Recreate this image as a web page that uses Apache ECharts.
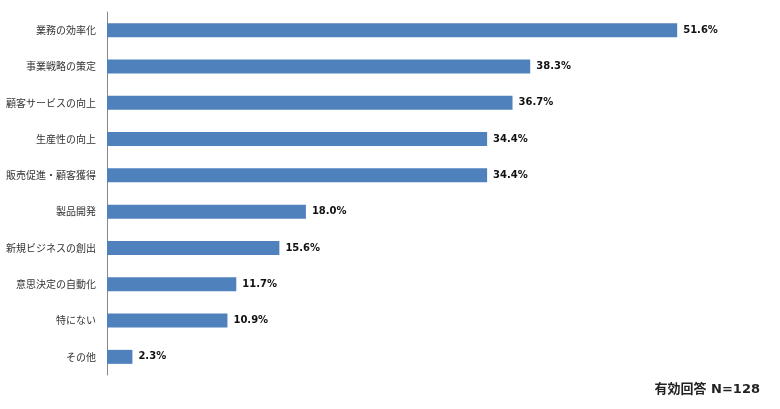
<!DOCTYPE html>
<html>
<head>
    <meta charset="utf-8">
    <title>ECharts</title>
    <script src="https://cdn.jsdelivr.net/npm/echarts@6/dist/echarts.min.js"></script>
</head>
<body style="margin:0;background:#fff;">
<div id="main" style="width: 780px;height:409px;"></div>
<script>
    // 上から順
    var categories = ['業務の効率化', '事業戦略の策定', '顧客サービスの向上', '生産性の向上', '販売促進・顧客獲得',
        '製品開発', '新規ビジネスの創出', '意思決定の自動化', '特にない', 'その他'];
    var values = [51.6, 38.3, 36.7, 34.4, 34.4, 18.0, 15.6, 11.7, 10.9, 2.3];
    var note = '有効回答 N=128';

    var myChart = echarts.init(document.getElementById('main'));
    var font = '"Noto Sans CJK JP", sans-serif';
    var numFont = '"DejaVu Sans", "Noto Sans CJK JP", sans-serif';

    myChart.setOption({
        animation: false,
        textStyle: {fontFamily: font},
        grid: {left: 107, right: 10, top: 12, bottom: 34, containLabel: false},
        graphic: [{
            type: 'text',
            right: 20,
            top: 383,
            style: {text: note, font: 'bold 13px ' + numFont, fill: '#222'}
        }],
        xAxis: {
            type: 'value',
            min: 0,
            max: 60,
            show: false
        },
        yAxis: {
            type: 'category',
            inverse: true,
            data: categories,
            axisLine: {lineStyle: {color: '#888', width: 1}},
            axisTick: {show: false},
            axisLabel: {color: '#333', fontSize: 10, margin: 11}
        },
        series: [{
            type: 'bar',
            data: values,
            barWidth: 14,
            itemStyle: {color: '#4F81BD'},
            label: {
                show: true,
                position: 'right',
                distance: 6,
                color: '#111',
                fontFamily: 'DejaVu Sans',
                fontSize: 10,
                fontWeight: 'bold',
                formatter: function (p) { return p.value.toFixed(1) + '%'; }
            }
        }]
    });
</script>
</body>
</html>
